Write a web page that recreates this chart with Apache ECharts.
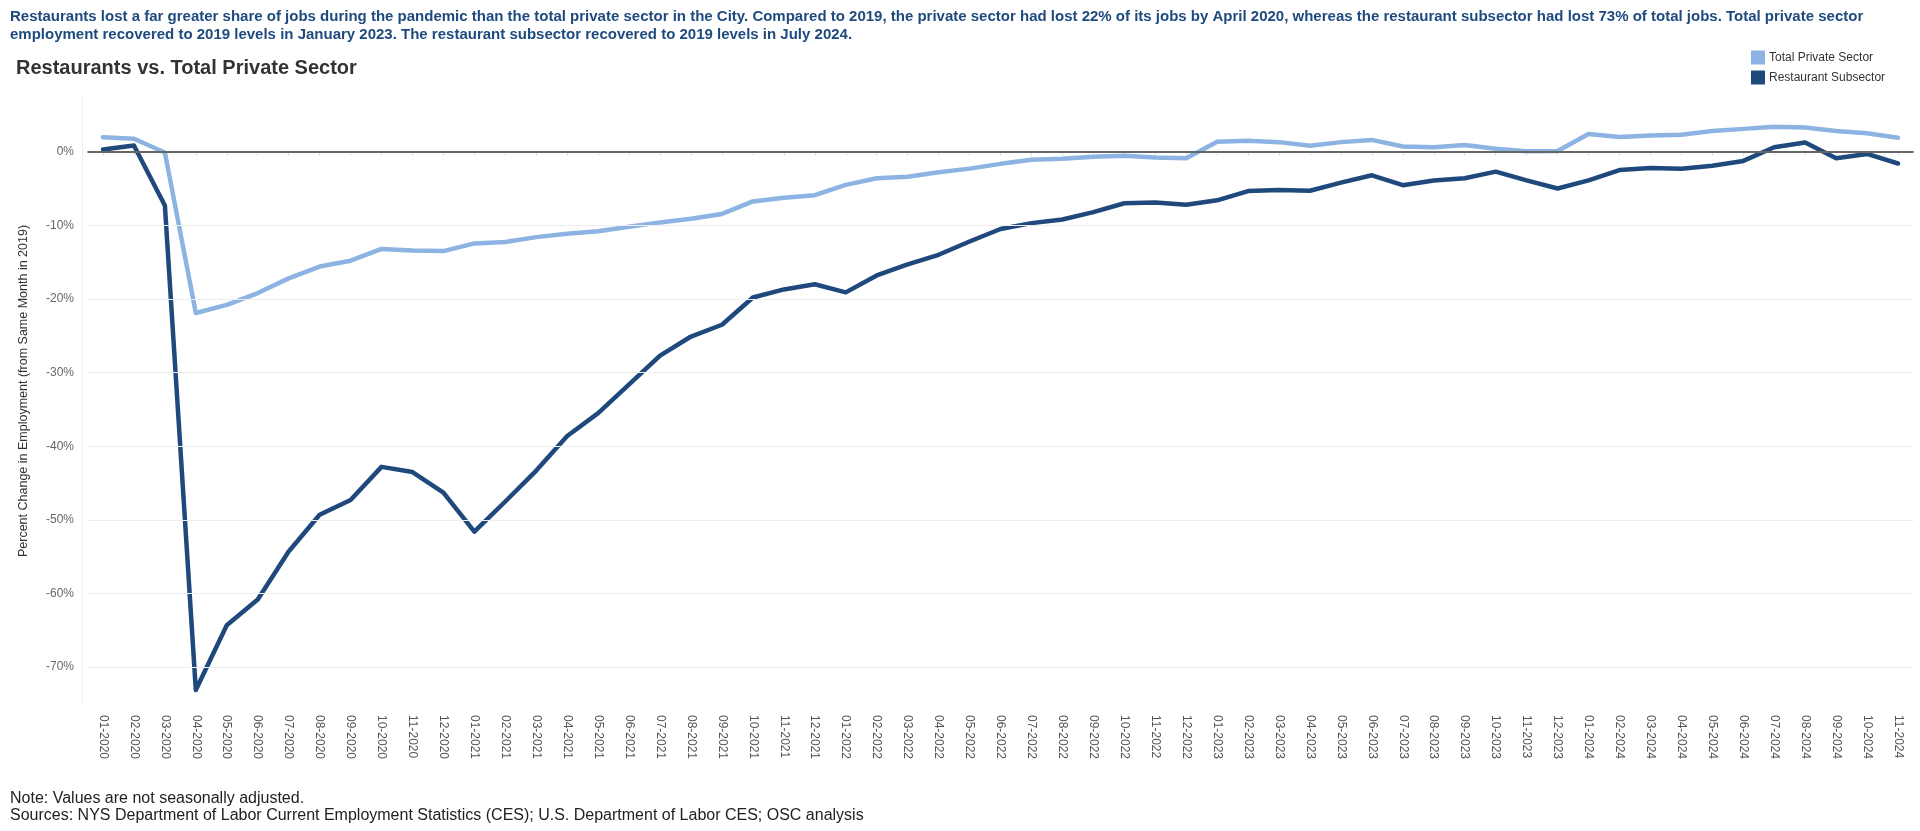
<!DOCTYPE html>
<html>
<head>
<meta charset="utf-8">
<script src="https://cdn.jsdelivr.net/npm/echarts@6/dist/echarts.min.js"></script>
<style>
html,body{margin:0;padding:0;background:#fff;}
#chart{width:1920px;height:831px;}
</style>
</head>
<body>
<div id="chart"></div>
<script>
const months = ['01-2020','02-2020','03-2020','04-2020','05-2020','06-2020','07-2020','08-2020','09-2020','10-2020','11-2020','12-2020',
'01-2021','02-2021','03-2021','04-2021','05-2021','06-2021','07-2021','08-2021','09-2021','10-2021','11-2021','12-2021',
'01-2022','02-2022','03-2022','04-2022','05-2022','06-2022','07-2022','08-2022','09-2022','10-2022','11-2022','12-2022',
'01-2023','02-2023','03-2023','04-2023','05-2023','06-2023','07-2023','08-2023','09-2023','10-2023','11-2023','12-2023',
'01-2024','02-2024','03-2024','04-2024','05-2024','06-2024','07-2024','08-2024','09-2024','10-2024','11-2024'];

const totalPrivate = [1.95,1.75,-0.1,-21.9,-20.8,-19.2,-17.2,-15.6,-14.8,-13.2,-13.4,-13.5,
-12.45,-12.25,-11.6,-11.15,-10.8,-10.2,-9.6,-9.1,-8.45,-6.75,-6.25,-5.9,
-4.5,-3.6,-3.4,-2.8,-2.3,-1.65,-1.1,-0.95,-0.7,-0.55,-0.8,-0.9,
1.35,1.5,1.3,0.8,1.3,1.6,0.7,0.6,0.9,0.4,0.05,0.1,
2.4,2.0,2.2,2.3,2.8,3.1,3.4,3.3,2.8,2.5,1.9];

const restaurant = [0.3,0.85,-7.3,-73.1,-64.3,-60.8,-54.3,-49.3,-47.3,-42.8,-43.5,-46.3,
-51.6,-47.5,-43.3,-38.6,-35.5,-31.6,-27.7,-25.1,-23.5,-19.8,-18.7,-18.0,
-19.1,-16.8,-15.3,-14.0,-12.2,-10.5,-9.7,-9.2,-8.2,-7.0,-6.9,-7.2,
-6.6,-5.35,-5.2,-5.3,-4.2,-3.2,-4.55,-3.9,-3.6,-2.7,-3.9,-5.0,
-3.9,-2.5,-2.2,-2.3,-1.9,-1.25,0.6,1.25,-0.9,-0.3,-1.6];

const yTicks = [0,-10,-20,-30,-40,-50,-60,-70];

const FONT = "'Liberation Sans', Arial, sans-serif";

const chart = echarts.init(document.getElementById('chart'), null, {renderer:'canvas'});

const gridMarks = yTicks.map(v => ({
  yAxis: v,
  lineStyle: v === 0 ? {color:'#666666', width:2, type:'solid'} : {color:'#ededed', width:1, type:'solid'}
}));

chart.setOption({
  animation: false,
  backgroundColor: '#ffffff',
  textStyle: {fontFamily: FONT},
  title: [
    {
      text: 'Restaurants lost a far greater share of jobs during the pandemic than the total private sector in the City. Compared to 2019, the private sector had lost 22% of its jobs by April 2020, whereas the restaurant subsector had lost 73% of total jobs. Total private sector\nemployment recovered to 2019 levels in January 2023. The restaurant subsector recovered to 2019 levels in July 2024.',
      left: 10, top: 7.5, padding: 0,
      textStyle: {fontFamily: FONT, fontSize: 15, fontWeight: 'bold', color: '#1f4a7e', lineHeight: 18}
    },
    {
      text: 'Restaurants vs. Total Private Sector',
      left: 16, top: 58.5, padding: 0,
      textStyle: {fontFamily: FONT, fontSize: 20, fontWeight: 'bold', color: '#333333', lineHeight: 20}
    },
    {
      text: 'Note: Values are not seasonally adjusted.\nSources: NYS Department of Labor Current Employment Statistics (CES); U.S. Department of Labor CES; OSC analysis',
      left: 10, top: 790, padding: 0,
      textStyle: {fontFamily: FONT, fontSize: 16, fontWeight: 'normal', color: '#222222', lineHeight: 17}
    }
  ],
  legend: {
    orient: 'vertical',
    left: 1751, top: 50.5, padding: 0,
    itemWidth: 14, itemHeight: 14, itemGap: 6,
    icon: 'rect',
    data: ['Total Private Sector', 'Restaurant Subsector'],
    textStyle: {fontFamily: FONT, fontSize: 12, color: '#333333', padding: [0,0,0,-1]}
  },
  grid: {left: 87.5, right: 6.5, top: 95, bottom: 127, containLabel: false},
  xAxis: {
    type: 'category',
    data: months,
    boundaryGap: true,
    axisLine: {show: true, lineStyle: {color: '#eeeeee', width: 1}},
    axisTick: {show: true, alignWithLabel: true, length: 4, lineStyle: {color: '#dddddd'}},
    axisLabel: {rotate: -90, interval: 0, margin: 11, fontSize: 12, color: '#555555', fontFamily: FONT},
    splitLine: {show: false}
  },
  yAxis: {
    type: 'value',
    min: -75, max: 7.7,
    splitNumber: 8,
    offset: 5.5,
    name: 'Percent Change in Employment (from Same Month in 2019)',
    nameLocation: 'middle',
    nameGap: 52,
    nameTextStyle: {fontFamily: FONT, fontSize: 12.5, color: '#333333', padding: [0,0,0,17]},
    axisLine: {show: true, lineStyle: {color: '#eeeeee', width: 1}},
    axisTick: {show: false},
    axisLabel: {
      margin: 8, fontSize: 12, color: '#666666', fontFamily: FONT,
      formatter: v => (yTicks.indexOf(v) >= 0 ? v + '%' : '')
    },
    splitLine: {show: false}
  },
  series: [
    {
      name: 'gridlines',
      type: 'line',
      data: [],
      z: 1,
      silent: true,
      markLine: {silent: true, symbol: ['none','none'], label: {show: false}, animation: false, data: gridMarks}
    },
    {
      name: 'Total Private Sector',
      type: 'line',
      data: totalPrivate,
      z: 3,
      showSymbol: false,
      symbol: 'none',
      itemStyle: {color: '#8db3e2'},
      lineStyle: {color: '#8db3e2', width: 4.5, cap: 'round', join: 'round'}
    },
    {
      name: 'Restaurant Subsector',
      type: 'line',
      data: restaurant,
      z: 4,
      showSymbol: false,
      symbol: 'none',
      itemStyle: {color: '#1f497d'},
      lineStyle: {color: '#1f497d', width: 4.5, cap: 'round', join: 'round'}
    }
  ]
});
</script>
</body>
</html>
